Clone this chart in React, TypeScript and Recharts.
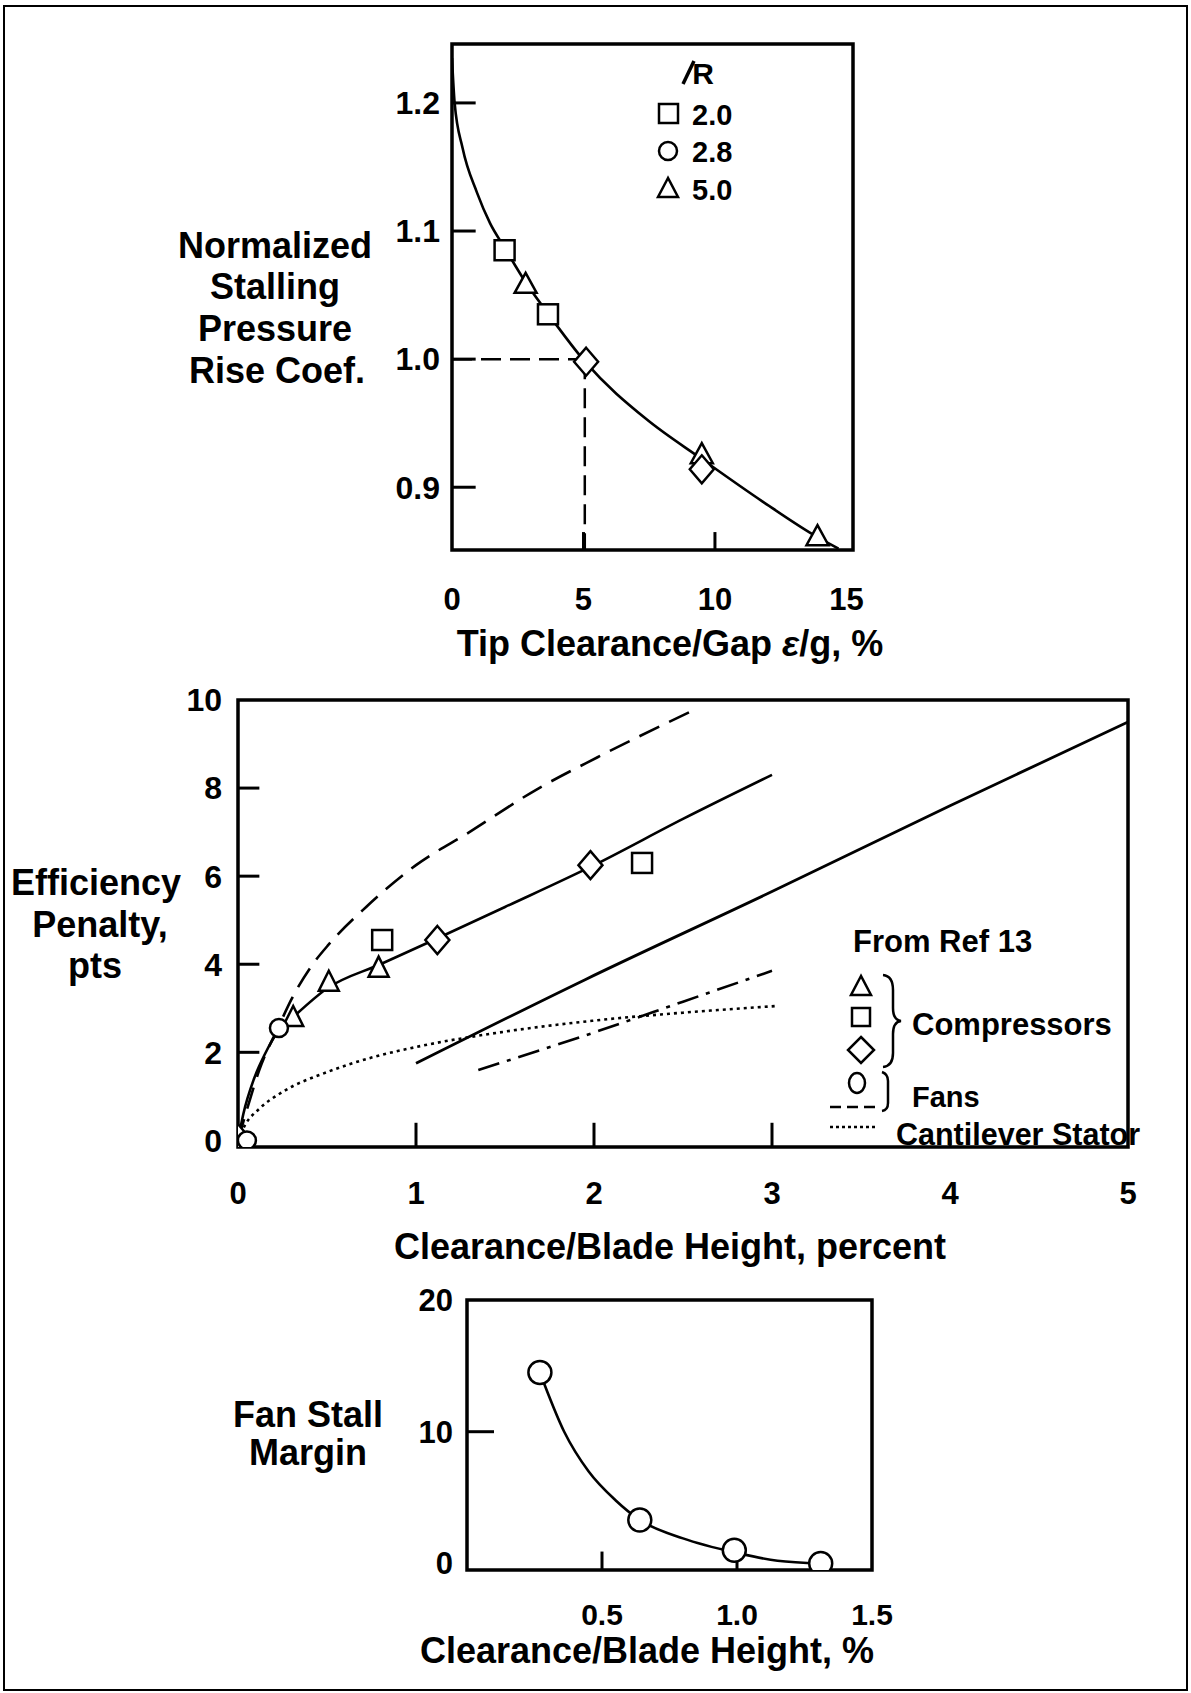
import { ComposedChart, Line, Scatter, XAxis, YAxis, ReferenceArea, ReferenceLine } from 'recharts';

const FONT = '"Liberation Sans", Arial, Helvetica, sans-serif';
const INK = '#000';

// ---- Normalized stalling pressure rise coefficient vs tip clearance/gap ----
const stallCurve = [
  { x: 0, y: 1.235 },
  { x: 0.1, y: 1.2 },
  { x: 0.4, y: 1.165 },
  { x: 0.95, y: 1.13 },
  { x: 1.45, y: 1.106 },
  { x: 2.0, y: 1.087 },
  { x: 2.8, y: 1.06 },
  { x: 3.6, y: 1.037 },
  { x: 5.1, y: 0.997 },
  { x: 7.4, y: 0.953 },
  { x: 9.5, y: 0.922 },
  { x: 11.8, y: 0.889 },
  { x: 13.9, y: 0.861 },
  { x: 14.7, y: 0.852 },
];
const stallSquares = [
  { x: 2.0, y: 1.085 },
  { x: 3.65, y: 1.035 },
];
const stallTriangles = [
  { x: 2.8, y: 1.058 },
  { x: 9.5, y: 0.925 },
  { x: 13.9, y: 0.861 },
];
const stallDiamonds = [
  { x: 5.1, y: 0.998 },
  { x: 9.5, y: 0.914 },
];
const stallXTicks = [0, 5, 10, 15];
const stallYTicks = [0.9, 1.0, 1.1, 1.2];
const aspectRatios = ['2.0', '2.8', '5.0'];
const designGap = 5.05;
const designCoef = 1.0;

// ---- Efficiency penalty vs clearance/blade height ----
const compressorCurve = [
  { x: 0, y: 0 },
  { x: 0.03, y: 0.6 },
  { x: 0.09, y: 1.4 },
  { x: 0.15, y: 1.95 },
  { x: 0.23, y: 2.5 },
  { x: 0.31, y: 2.8 },
  { x: 0.5, y: 3.45 },
  { x: 0.8, y: 4.0 },
  { x: 1.1, y: 4.55 },
  { x: 1.5, y: 5.3 },
  { x: 2.0, y: 6.25 },
  { x: 2.5, y: 7.3 },
  { x: 3.0, y: 8.3 },
];
const fanCurve = [
  { x: 0, y: 0 },
  { x: 0.05, y: 0.7 },
  { x: 0.12, y: 1.6 },
  { x: 0.23, y: 2.6 },
  { x: 0.3, y: 3.2 },
  { x: 0.42, y: 4.0 },
  { x: 0.51, y: 4.45 },
  { x: 0.72, y: 5.3 },
  { x: 1.0, y: 6.25 },
  { x: 1.3, y: 7.0 },
  { x: 1.67, y: 7.95 },
  { x: 2.02, y: 8.7 },
  { x: 2.55, y: 9.75 },
];
const straightLine = [
  { x: 1.0, y: 1.75 },
  { x: 1.95, y: 3.65 },
  { x: 3.0, y: 5.65 },
  { x: 4.0, y: 7.6 },
  { x: 5.0, y: 9.5 },
];
const dashDotLine = [
  { x: 1.35, y: 1.6 },
  { x: 2.0, y: 2.45 },
  { x: 2.5, y: 3.15 },
  { x: 3.0, y: 3.85 },
];
const cantileverCurve = [
  { x: 0, y: 0 },
  { x: 0.04, y: 0.35 },
  { x: 0.12, y: 0.72 },
  { x: 0.25, y: 1.1 },
  { x: 0.5, y: 1.55 },
  { x: 0.75, y: 1.88 },
  { x: 1.0, y: 2.12 },
  { x: 1.5, y: 2.47 },
  { x: 2.0, y: 2.72 },
  { x: 2.5, y: 2.9 },
  { x: 3.02, y: 3.05 },
];
const effTriangles = [
  { x: 0.31, y: 2.78 },
  { x: 0.51, y: 3.58 },
  { x: 0.79, y: 3.9 },
];
const effSquares = [
  { x: 0.81, y: 4.55 },
  { x: 2.27, y: 6.3 },
];
const effDiamonds = [
  { x: 0.0, y: 0.05 },
  { x: 1.12, y: 4.55 },
  { x: 1.98, y: 6.25 },
];
const effCircles = [
  { x: 0.05, y: 0 },
  { x: 0.23, y: 2.55 },
];
const effXTicks = [0, 1, 2, 3, 4, 5];
const effYTicks = [0, 2, 4, 6, 8, 10];

// ---- Fan stall margin ----
const marginCurve = [
  { x: 0.27, y: 14.5 },
  { x: 0.36, y: 10.0 },
  { x: 0.45, y: 7.0 },
  { x: 0.55, y: 4.8 },
  { x: 0.64, y: 3.3 },
  { x: 0.8, y: 1.9 },
  { x: 1.0, y: 0.8 },
  { x: 1.15, y: 0.2 },
  { x: 1.31, y: 0 },
];
const marginCircles = [
  { x: 0.27, y: 14.5 },
  { x: 0.64, y: 3.3 },
  { x: 0.99, y: 1.0 },
  { x: 1.31, y: 0 },
];
const marginXTicks = [0.5, 1.0, 1.5];
const marginYTicks = [0, 10, 20];

type Pt = { cx?: number; cy?: number };
const mk = { fill: '#fff', stroke: INK, strokeWidth: 2.5 };

const squareShape = (s: number) => (p: Pt) => {
  const cx = p.cx ?? 0;
  const cy = p.cy ?? 0;
  return <rect x={cx - s / 2} y={cy - s / 2} width={s} height={s} {...mk} />;
};
const circleShape = (d: number) => (p: Pt) => <circle cx={p.cx ?? 0} cy={p.cy ?? 0} r={d / 2} {...mk} />;
const triangleShape = (w: number, h: number) => (p: Pt) => {
  const cx = p.cx ?? 0;
  const cy = p.cy ?? 0;
  return (
    <polygon
      points={`${cx},${cy - h * 0.6} ${cx - w / 2},${cy + h * 0.4} ${cx + w / 2},${cy + h * 0.4}`}
      {...mk}
    />
  );
};
const diamondShape = (w: number, h: number) => (p: Pt) => {
  const cx = p.cx ?? 0;
  const cy = p.cy ?? 0;
  return (
    <polygon
      points={`${cx},${cy - h / 2} ${cx + w / 2},${cy} ${cx},${cy + h / 2} ${cx - w / 2},${cy}`}
      {...mk}
    />
  );
};

const tickStyle = (size: number) => ({ fill: INK, fontSize: size, fontWeight: 700, fontFamily: FONT });

function curve(data: { x: number; y: number }[], dash?: string, width = 2.6) {
  return (
    <Line
      data={data}
      dataKey="y"
      type="monotone"
      stroke={INK}
      strokeWidth={width}
      strokeDasharray={dash}
      dot={false}
      activeDot={false}
      legendType="none"
      isAnimationActive={false}
    />
  );
}

function StallChart() {
  const xMax = 15.25;
  const yMin = 0.851;
  const yMax = 1.246;
  return (
    <div style={{ position: 'absolute', left: 300, top: 0 }}>
      <ComposedChart width={600} height={640} margin={{ top: 44, right: 47, bottom: 50, left: 0 }}>
        <XAxis
          dataKey="x"
          type="number"
          domain={[0, xMax]}
          allowDataOverflow
          ticks={stallXTicks}
          interval={0}
          axisLine={false}
          tickLine={false}
          tickSize={0}
          tickMargin={38}
          height={40}
          tick={tickStyle(31)}
        />
        <YAxis
          dataKey="y"
          type="number"
          domain={[yMin, yMax]}
          allowDataOverflow
          ticks={stallYTicks}
          interval={0}
          axisLine={false}
          tickLine={false}
          tickSize={0}
          tickMargin={12}
          width={152}
          tick={tickStyle(32)}
          tickFormatter={(v: number) => v.toFixed(1)}
        />
        <ReferenceArea x1={0} x2={xMax} y1={yMin} y2={yMax} fill="none" stroke={INK} strokeWidth={3.5} />
        {stallYTicks.map((t) => (
          <ReferenceLine key={t} segment={[{ x: 0, y: t }, { x: 0.9, y: t }]} stroke={INK} strokeWidth={3} />
        ))}
        {[5, 10].map((t) => (
          <ReferenceLine key={t} segment={[{ x: t, y: yMin }, { x: t, y: yMin + 0.014 }]} stroke={INK} strokeWidth={3} />
        ))}
        <ReferenceLine
          segment={[{ x: 0, y: designCoef }, { x: designGap, y: designCoef }]}
          stroke={INK}
          strokeWidth={2.5}
          strokeDasharray="20 9"
        />
        <ReferenceLine
          segment={[{ x: designGap, y: designCoef }, { x: designGap, y: yMin }]}
          stroke={INK}
          strokeWidth={2.5}
          strokeDasharray="20 9"
        />
        {curve(stallCurve)}
        <Scatter data={stallSquares} dataKey="y" shape={squareShape(20)} isAnimationActive={false} />
        <Scatter data={stallTriangles} dataKey="y" shape={triangleShape(22, 20)} isAnimationActive={false} />
        <Scatter data={stallDiamonds} dataKey="y" shape={diamondShape(24, 28)} isAnimationActive={false} />
      </ComposedChart>
    </div>
  );
}

function EfficiencyChart() {
  const yMin = -0.15;
  return (
    <div style={{ position: 'absolute', left: 0, top: 640 }}>
      <ComposedChart width={1191} height={620} margin={{ top: 60, right: 63, bottom: 73, left: 0 }}>
        <XAxis
          dataKey="x"
          type="number"
          domain={[0, 5]}
          allowDataOverflow
          ticks={effXTicks}
          interval={0}
          axisLine={false}
          tickLine={false}
          tickSize={0}
          tickMargin={35}
          height={40}
          tick={tickStyle(31)}
        />
        <YAxis
          dataKey="y"
          type="number"
          domain={[yMin, 10]}
          allowDataOverflow
          ticks={effYTicks}
          interval={0}
          axisLine={false}
          tickLine={false}
          tickSize={0}
          tickMargin={16}
          width={238}
          tick={tickStyle(32)}
        />
        <ReferenceArea x1={0} x2={5} y1={yMin} y2={10} fill="none" stroke={INK} strokeWidth={3.5} />
        {[2, 4, 6, 8].map((t) => (
          <ReferenceLine key={t} segment={[{ x: 0, y: t }, { x: 0.12, y: t }]} stroke={INK} strokeWidth={3} />
        ))}
        {[1, 2, 3].map((t) => (
          <ReferenceLine key={t} segment={[{ x: t, y: yMin }, { x: t, y: 0.4 }]} stroke={INK} strokeWidth={3} />
        ))}
        {/* the tick at 4 stays short so it clears the legend text */}
        <ReferenceLine segment={[{ x: 4, y: yMin }, { x: 4, y: 0.02 }]} stroke={INK} strokeWidth={3} />
        {curve(fanCurve, '22 11')}
        {curve(compressorCurve)}
        {curve(straightLine, undefined, 2.8)}
        {curve(dashDotLine, '22 8 4 8')}
        {curve(cantileverCurve, '3 4')}
        <Scatter data={effTriangles} dataKey="y" shape={triangleShape(20, 20)} isAnimationActive={false} />
        <Scatter data={effSquares} dataKey="y" shape={squareShape(20)} isAnimationActive={false} />
        <Scatter data={effDiamonds} dataKey="y" shape={diamondShape(24, 28)} isAnimationActive={false} />
        <Scatter data={effCircles} dataKey="y" shape={circleShape(18)} isAnimationActive={false} />
      </ComposedChart>
    </div>
  );
}

function MarginChart() {
  const yMin = -0.5;
  return (
    <div style={{ position: 'absolute', left: 0, top: 1250 }}>
      <ComposedChart width={1191} height={443} margin={{ top: 50, right: 319, bottom: 83, left: 0 }}>
        <XAxis
          dataKey="x"
          type="number"
          domain={[0, 1.5]}
          allowDataOverflow
          ticks={marginXTicks}
          interval={0}
          axisLine={false}
          tickLine={false}
          tickSize={0}
          tickMargin={34}
          height={40}
          tick={tickStyle(30)}
          tickFormatter={(v: number) => v.toFixed(1)}
        />
        <YAxis
          dataKey="y"
          type="number"
          domain={[yMin, 20]}
          allowDataOverflow
          ticks={marginYTicks}
          interval={0}
          axisLine={false}
          tickLine={false}
          tickSize={0}
          tickMargin={14}
          width={467}
          tick={tickStyle(31)}
        />
        <ReferenceArea x1={0} x2={1.5} y1={yMin} y2={20} fill="none" stroke={INK} strokeWidth={3.5} />
        <ReferenceLine segment={[{ x: 0, y: 10 }, { x: 0.1, y: 10 }]} stroke={INK} strokeWidth={3} />
        {[0.5, 1.0].map((t) => (
          <ReferenceLine key={t} segment={[{ x: t, y: yMin }, { x: t, y: 0.9 }]} stroke={INK} strokeWidth={3} />
        ))}
        {curve(marginCurve)}
        <Scatter data={marginCircles} dataKey="y" shape={circleShape(23)} isAnimationActive={false} />
      </ComposedChart>
    </div>
  );
}

// titles, legends and the page frame sit on one svg layer above the charts
function Annotations() {
  const title = { fontFamily: FONT, fontWeight: 700, fontSize: 36, fill: INK, textAnchor: 'middle' as const };
  const legend = { fontFamily: FONT, fontWeight: 700, fill: INK };
  const legendRows = [114, 151, 189];
  return (
    <svg
      width={1191}
      height={1693}
      style={{ position: 'absolute', left: 0, top: 0, pointerEvents: 'none' }}
    >
      <rect x={4} y={6} width={1183} height={1684} fill="none" stroke={INK} strokeWidth={2} />

      {/* top chart */}
      <text x={275} y={258} {...title}>Normalized</text>
      <text x={275} y={299} {...title}>Stalling</text>
      <text x={275} y={341} {...title}>Pressure</text>
      <text x={277} y={383} {...title}>Rise Coef.</text>
      <text x={670} y={656} {...title}>
        Tip Clearance/Gap <tspan fontStyle="italic">ε</tspan>/g, %
      </text>
      <text x={703} y={84} {...legend} fontSize={30} textAnchor="middle">R</text>
      <line x1={683} y1={84} x2={694} y2={61} stroke={INK} strokeWidth={3.5} />
      <rect x={659} y={legendRows[0] - 10} width={19} height={19} fill="#fff" stroke={INK} strokeWidth={2.5} />
      <circle cx={668} cy={legendRows[1]} r={9} fill="#fff" stroke={INK} strokeWidth={2.5} />
      <polygon
        points={`668,${legendRows[2] - 11} 658,${legendRows[2] + 8} 678,${legendRows[2] + 8}`}
        fill="#fff"
        stroke={INK}
        strokeWidth={2.5}
      />
      {aspectRatios.map((r, i) => (
        <text key={r} x={692} y={legendRows[i] + 11} {...legend} fontSize={29}>
          {r}
        </text>
      ))}

      {/* middle chart */}
      <text x={96} y={895} {...title}>Efficiency</text>
      <text x={100} y={937} {...title}>Penalty,</text>
      <text x={95} y={978} {...title}>pts</text>
      <text x={670} y={1259} {...title}>Clearance/Blade Height, percent</text>
      <text x={853} y={952} {...legend} fontSize={31}>From Ref 13</text>
      <polygon points="861,976 851,995 871,995" fill="#fff" stroke={INK} strokeWidth={2.5} />
      <rect x={852} y={1008} width={18} height={18} fill="#fff" stroke={INK} strokeWidth={2.5} />
      <polygon points="861,1037 874,1050 861,1063 848,1050" fill="#fff" stroke={INK} strokeWidth={2.5} />
      <path
        d="M883 975 Q893 976 893 990 L893 1008 Q893 1020 901 1021 Q893 1022 893 1034 L893 1053 Q893 1066 883 1067"
        fill="none"
        stroke={INK}
        strokeWidth={2.5}
      />
      <text x={912} y={1035} {...legend} fontSize={31}>Compressors</text>
      <ellipse cx={857} cy={1083} rx={8} ry={10} fill="#fff" stroke={INK} strokeWidth={2.5} />
      <path d="M882 1072 Q888 1074 888 1081 L888 1103 Q888 1110 882 1111" fill="none" stroke={INK} strokeWidth={2.5} />
      <line x1={830} y1={1107} x2={878} y2={1107} stroke={INK} strokeWidth={2.5} strokeDasharray="11 6" />
      <text x={912} y={1107} {...legend} fontSize={29}>Fans</text>
      <line x1={830} y1={1127} x2={876} y2={1127} stroke={INK} strokeWidth={2.5} strokeDasharray="3 3" />
      <text x={896} y={1145} {...legend} fontSize={30.5}>Cantilever Stator</text>

      {/* bottom chart */}
      <text x={308} y={1427} {...title}>Fan Stall</text>
      <text x={308} y={1465} {...title}>Margin</text>
      <text x={647} y={1663} {...title}>Clearance/Blade Height, %</text>
    </svg>
  );
}

export default function App() {
  return (
    <div
      style={{
        position: 'absolute',
        left: 0,
        top: 0,
        width: 1191,
        height: 1693,
        background: '#fff',
        overflow: 'hidden',
      }}
    >
      <StallChart />
      <EfficiencyChart />
      <MarginChart />
      <Annotations />
    </div>
  );
}
